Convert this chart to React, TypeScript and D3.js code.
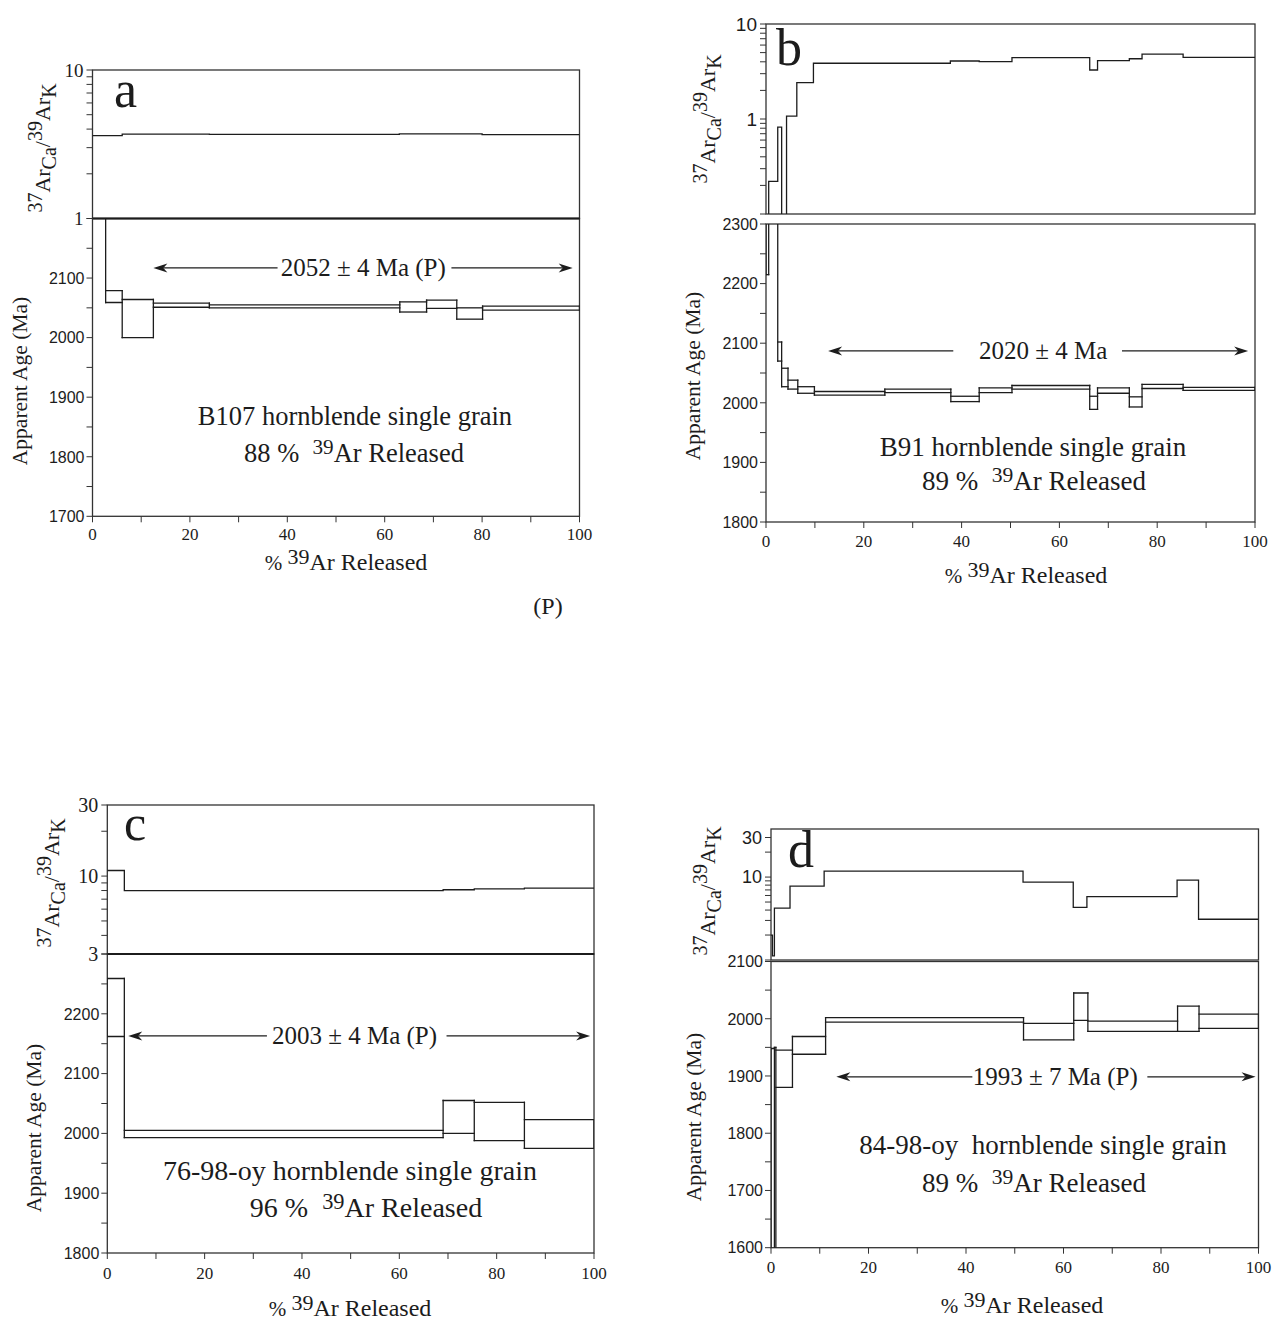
import React from "react";
import * as d3 from "d3";

// ---------------- Panel a : B107 ----------------
const aRatioEdges = [0, 6.1, 24, 63, 80, 100];
const aRatioValues = [3.62, 3.7, 3.69, 3.71, 3.67];
const aAgeEdges = [0, 2.7, 6.1, 12.5, 24, 63.1, 68.6, 74.8, 80.1, 100];
const aAgeLow = [2300, 2059, 2000, 2051, 2050, 2043, 2049, 2031, 2046];
const aAgeHigh = [2500, 2079, 2064, 2058, 2055, 2060, 2063, 2050, 2053];
const aPlateauText = "2052 ± 4 Ma (P)";
const aSampleText = "B107 hornblende single grain";
const aReleasedPct = "88 %";

// ---------------- Panel b : B91 ----------------
const bRatioEdges = [0, 0.55, 2.4, 3.2, 4.2, 6.3, 9.7, 37.7, 43.6, 50.3, 66.2, 67.8, 74.3, 76.9, 85.3, 100];
const bRatioValues = [0.05, 0.22, 0.82, 0.05, 1.07, 2.41, 3.86, 4.08, 4.02, 4.42, 3.28, 4.11, 4.31, 4.83, 4.46];
const bAgeEdges = [0, 0.55, 2.4, 3.2, 4.5, 6.5, 9.9, 24.3, 37.8, 43.6, 50.3, 66.2, 67.8, 74.3, 76.9, 85.3, 100];
const bAgeLow = [2215, 2330, 2070, 2027, 2023, 2016, 2013, 2017, 2002, 2017, 2023, 1989, 2016, 1993, 2024, 2021];
const bAgeHigh = [2400, 2500, 2102, 2058, 2038, 2027, 2019, 2023, 2011, 2025, 2029, 2011, 2025, 2010, 2031, 2026];
const bPlateauText = "2020 ± 4 Ma";
const bSampleText = "B91 hornblende single grain";
const bReleasedPct = "89 %";

// ---------------- Panel c : 76-98-oy ----------------
const cRatioEdges = [0, 3.5, 69, 75.4, 85.7, 100];
const cRatioValues = [10.9, 7.98, 8.1, 8.2, 8.3];
const cAgeEdges = [0, 3.5, 69, 75.4, 85.7, 100];
const cAgeLow = [2162, 1993, 2000, 1988, 1975];
const cAgeHigh = [2259, 2005, 2055, 2052, 2023];
const cPlateauText = "2003 ± 4 Ma (P)";
const cSampleText = "76-98-oy hornblende single grain";
const cReleasedPct = "96 %";

// ---------------- Panel d : 84-98-oy ----------------
const dRatioEdges = [0, 0.3, 0.7, 3.9, 10.9, 51.7, 62, 64.8, 83.3, 87.7, 100];
const dRatioValues = [2.0, 1.12, 4.23, 7.8, 11.8, 8.7, 4.3, 5.8, 9.2, 3.1];
const dAgeEdges = [0, 0.7, 1.0, 4.4, 11.2, 51.8, 62.1, 65.0, 83.4, 87.8, 100];
const dAgeLow = [1400, 1350, 1880, 1938, 1994, 1963, 1997, 1978, 1978, 1983];
const dAgeHigh = [1948, 1950, 1945, 1969, 2002, 1992, 2045, 1996, 2022, 2008];
const dPlateauText = "1993 ± 7 Ma (P)";
const dSampleText = "84-98-oy\u00a0 hornblende single grain";
const dReleasedPct = "89 %";

// axis tick labels
const xTickLabels = [0, 20, 40, 60, 80, 100];
const aRatioTickLabels = [10, 1];
const bRatioTickLabels = [10, 1];
const cRatioTickLabels = [30, 10, 3];
const dRatioTickLabels = [30, 10];
const aAgeTickLabels = [2100, 2000, 1900, 1800, 1700];
const bAgeTickLabels = [2300, 2200, 2100, 2000, 1900, 1800];
const cAgeTickLabels = [2200, 2100, 2000, 1900, 1800];
const dAgeTickLabels = [2100, 2000, 1900, 1800, 1700, 1600];

const SERIF = "'Liberation Serif', 'Times New Roman', serif";
const SANS = "'Liberation Sans', Arial, sans-serif";
const INK = "#1c1c1c";
const FRAME = "#333";

type PanelProps = {
  id: string;
  x0: number; x1: number;
  rTop: number; rBot: number; rDomain: [number, number];
  rLabels: number[]; rFont: string; rFontSize: number;
  aTop: number; aBot: number; aDomain: [number, number]; aLabels: number[];
  separate: boolean;
  ratioEdges: number[]; ratioValues: number[];
  ageEdges: number[]; ageLow: number[]; ageHigh: number[];
  letter: string; letterX: number; letterY: number; letterSize: number;
  ratioLabelX: number; ratioLabelY: number;
  ageLabelX: number; ageLabelY: number;
  plateauText: string; plateauAge: number; plateauTextPct: number;
  arrowL: [number, number]; arrowR: [number, number];
  sampleText: string; sampleX: number; sampleY: number; sampleSize: number;
  pct: string; relX: number; relY: number;
  xTitleX: number; xTitleY: number; xTickY: number;
};

function Arrow({ xFrom, xTo, y }: { xFrom: number; xTo: number; y: number }) {
  const dir = Math.sign(xTo - xFrom);
  const tip = xTo;
  const back = tip - dir * 14;
  const notch = tip - dir * 10;
  return (
    <g>
      <line x1={xFrom} x2={notch} y1={y} y2={y} stroke={INK} strokeWidth={1.2} />
      <path d={`M${tip},${y} L${back},${y - 4.5} L${notch},${y} L${back},${y + 4.5} Z`} fill={INK} />
    </g>
  );
}

function ReleasedText({ x, y, pct, size }: { x: number; y: number; pct: string; size: number }) {
  return (
    <text x={x} y={y} textAnchor="middle" fontFamily={SERIF} fontSize={size} fill={INK}>
      {pct + "\u00a0 "}
      <tspan dy={-size * 0.3} fontSize={size * 0.8}>39</tspan>
      <tspan dy={size * 0.3}>Ar Released</tspan>
    </text>
  );
}

function Panel(p: PanelProps) {
  const x = d3.scaleLinear().domain([0, 100]).range([p.x0, p.x1]);
  const yr = d3.scaleLog().domain(p.rDomain).range([p.rBot, p.rTop]);
  const ya = d3.scaleLinear().domain(p.aDomain).range([p.aBot, p.aTop]);

  // ratio step path
  const pts: [number, number][] = [];
  p.ratioValues.forEach((v, i) => {
    pts.push([p.ratioEdges[i], v]);
    pts.push([p.ratioEdges[i + 1], v]);
  });
  const ratioPath = d3
    .line<[number, number]>()
    .x((d) => x(d[0]))
    .y((d) => yr(d[1]))(pts) as string;

  // age spectrum segments
  const segs: { x1: number; y1: number; x2: number; y2: number }[] = [];
  const n = p.ageLow.length;
  for (let i = 0; i < n; i++) {
    const xa = x(p.ageEdges[i]);
    const xb = x(p.ageEdges[i + 1]);
    segs.push({ x1: xa, x2: xb, y1: ya(p.ageLow[i]), y2: ya(p.ageLow[i]) });
    segs.push({ x1: xa, x2: xb, y1: ya(p.ageHigh[i]), y2: ya(p.ageHigh[i]) });
  }
  for (let j = 0; j <= n; j++) {
    const xe = x(p.ageEdges[j]);
    const lows: number[] = [];
    const highs: number[] = [];
    if (j > 0) { lows.push(p.ageLow[j - 1]); highs.push(p.ageHigh[j - 1]); }
    if (j < n) { lows.push(p.ageLow[j]); highs.push(p.ageHigh[j]); }
    segs.push({ x1: xe, x2: xe, y1: ya(Math.min(...lows)), y2: ya(Math.max(...highs)) });
  }

  const rTicks = yr.ticks();
  const aTicks = d3.range(p.aDomain[0], p.aDomain[1] + 1, 50);
  const xTicks = d3.range(0, 101, 10);
  const tl = 6;

  return (
    <g>
      <defs>
        <clipPath id={`clipR-${p.id}`}>
          <rect x={p.x0} y={p.rTop} width={p.x1 - p.x0} height={p.rBot - p.rTop} />
        </clipPath>
        <clipPath id={`clipA-${p.id}`}>
          <rect x={p.x0} y={p.aTop} width={p.x1 - p.x0} height={p.aBot - p.aTop} />
        </clipPath>
      </defs>

      <rect x={p.x0} y={p.rTop} width={p.x1 - p.x0} height={p.rBot - p.rTop} fill="none" stroke={FRAME} strokeWidth={1.3} />
      <rect x={p.x0} y={p.aTop} width={p.x1 - p.x0} height={p.aBot - p.aTop} fill="none" stroke={FRAME} strokeWidth={1.3} />
      {!p.separate && (
        <line x1={p.x0} x2={p.x1} y1={p.rBot} y2={p.rBot} stroke={INK} strokeWidth={2} />
      )}

      {rTicks.map((t) => (
        <line key={`rt${t}`} x1={p.x0 - tl} x2={p.x0} y1={yr(t)} y2={yr(t)} stroke={FRAME} strokeWidth={1} />
      ))}
      {p.rLabels.map((t) => (
        <text key={`rl${t}`} x={p.x0 - tl - 3} y={yr(t)} dy="0.35em" textAnchor="end" fontFamily={p.rFont} fontSize={p.rFontSize} fill={INK}>
          {t}
        </text>
      ))}

      {aTicks.map((t) => (
        <line key={`at${t}`} x1={p.x0 - tl} x2={p.x0} y1={ya(t)} y2={ya(t)} stroke={FRAME} strokeWidth={1} />
      ))}
      {p.aLabels.map((t) => (
        <text key={`al${t}`} x={p.x0 - tl - 2} y={ya(t)} dy="0.36em" textAnchor="end" fontFamily={SANS} fontSize={16} fill={INK}>
          {t}
        </text>
      ))}

      {xTicks.map((t) => (
        <line key={`xt${t}`} x1={x(t)} x2={x(t)} y1={p.aBot} y2={p.aBot + tl} stroke={FRAME} strokeWidth={1} />
      ))}
      {xTickLabels.map((t) => (
        <text key={`xl${t}`} x={x(t)} y={p.xTickY} textAnchor="middle" fontFamily={SERIF} fontSize={17} fill={INK}>
          {t}
        </text>
      ))}

      <g clipPath={`url(#clipR-${p.id})`}>
        <path d={ratioPath} fill="none" stroke={INK} strokeWidth={1.3} />
      </g>
      <g clipPath={`url(#clipA-${p.id})`}>
        {segs.map((s, i) => (
          <line key={`s${i}`} x1={s.x1} x2={s.x2} y1={s.y1} y2={s.y2} stroke={INK} strokeWidth={1.3} strokeLinecap="square" />
        ))}
      </g>

      <text x={p.letterX} y={p.letterY} fontFamily={SERIF} fontSize={p.letterSize} fill={INK}>
        {p.letter}
      </text>

      <text transform={`translate(${p.ratioLabelX},${p.ratioLabelY}) rotate(-90)`} textAnchor="middle" fontFamily={SERIF} fontSize={22} fill={INK}>
        <tspan dy={-8} fontSize={20}>37</tspan>
        <tspan dy={8}>Ar</tspan>
        <tspan dy={6} fontSize={20}>Ca</tspan>
        <tspan dy={-6}>/</tspan>
        <tspan dy={-8} fontSize={20}>39</tspan>
        <tspan dy={8}>Ar</tspan>
        <tspan dy={6} fontSize={20}>K</tspan>
      </text>

      <text transform={`translate(${p.ageLabelX},${p.ageLabelY}) rotate(-90)`} textAnchor="middle" fontFamily={SERIF} fontSize={21.5} fill={INK}>
        Apparent Age (Ma)
      </text>

      <text x={p.xTitleX} y={p.xTitleY} textAnchor="middle" fontFamily={SERIF} fontSize={24} fill={INK}>
        <tspan fontSize={21}>{"% "}</tspan>
        <tspan dy={-6} fontSize={22}>39</tspan>
        <tspan dy={6}>Ar Released</tspan>
      </text>

      <Arrow xFrom={x(p.arrowL[0])} xTo={x(p.arrowL[1])} y={ya(p.plateauAge)} />
      <Arrow xFrom={x(p.arrowR[0])} xTo={x(p.arrowR[1])} y={ya(p.plateauAge)} />
      <text x={x(p.plateauTextPct)} y={ya(p.plateauAge) + 8} textAnchor="middle" fontFamily={SERIF} fontSize={25} fill={INK}>
        {p.plateauText}
      </text>

      <text x={p.sampleX} y={p.sampleY} textAnchor="middle" fontFamily={SERIF} fontSize={p.sampleSize} fill={INK}>
        {p.sampleText}
      </text>
      <ReleasedText x={p.relX} y={p.relY} pct={p.pct} size={p.sampleSize} />
    </g>
  );
}

export default function App() {
  return (
    <svg width={1272} height={1321} style={{ position: "absolute", left: 0, top: 0, background: "#fff" }}>
      <rect width={1272} height={1321} fill="#fff" />
      <Panel
        id="a" x0={92.5} x1={579.5}
        rTop={70} rBot={218.5} rDomain={[1, 10]} rLabels={aRatioTickLabels} rFont={SERIF} rFontSize={19}
        aTop={218.5} aBot={516.3} aDomain={[1700, 2200]} aLabels={aAgeTickLabels}
        separate={false}
        ratioEdges={aRatioEdges} ratioValues={aRatioValues}
        ageEdges={aAgeEdges} ageLow={aAgeLow} ageHigh={aAgeHigh}
        letter="a" letterX={114} letterY={107} letterSize={52}
        ratioLabelX={50} ratioLabelY={148} ageLabelX={27} ageLabelY={381}
        plateauText={aPlateauText} plateauAge={2117} plateauTextPct={55.6}
        arrowL={[38, 12.5]} arrowR={[73.7, 98.6]}
        sampleText={aSampleText} sampleX={355} sampleY={425} sampleSize={26.5}
        pct={aReleasedPct} relX={354} relY={462}
        xTitleX={346} xTitleY={570} xTickY={540}
      />
      <Panel
        id="b" x0={766} x1={1255}
        rTop={24} rBot={214} rDomain={[0.1, 10]} rLabels={bRatioTickLabels} rFont={SANS} rFontSize={19}
        aTop={224} aBot={522} aDomain={[1800, 2300]} aLabels={bAgeTickLabels}
        separate={true}
        ratioEdges={bRatioEdges} ratioValues={bRatioValues}
        ageEdges={bAgeEdges} ageLow={bAgeLow} ageHigh={bAgeHigh}
        letter="b" letterX={776} letterY={65} letterSize={52}
        ratioLabelX={715} ratioLabelY={119} ageLabelX={700} ageLabelY={376}
        plateauText={bPlateauText} plateauAge={2087} plateauTextPct={56.7}
        arrowL={[38.3, 12.7]} arrowR={[72.8, 98.6]}
        sampleText={bSampleText} sampleX={1033} sampleY={456} sampleSize={27}
        pct={bReleasedPct} relX={1034} relY={490}
        xTitleX={1026} xTitleY={583} xTickY={547}
      />
      <Panel
        id="c" x0={107.3} x1={594}
        rTop={805} rBot={954} rDomain={[3, 30]} rLabels={cRatioTickLabels} rFont={SERIF} rFontSize={20}
        aTop={954} aBot={1253} aDomain={[1800, 2300]} aLabels={cAgeTickLabels}
        separate={false}
        ratioEdges={cRatioEdges} ratioValues={cRatioValues}
        ageEdges={cAgeEdges} ageLow={cAgeLow} ageHigh={cAgeHigh}
        letter="c" letterX={124} letterY={840} letterSize={50}
        ratioLabelX={59} ratioLabelY={883} ageLabelX={41} ageLabelY={1128}
        plateauText={cPlateauText} plateauAge={2163} plateauTextPct={50.8}
        arrowL={[32.8, 4.3]} arrowR={[69.7, 99.2]}
        sampleText={cSampleText} sampleX={350} sampleY={1180} sampleSize={28}
        pct={cReleasedPct} relX={366} relY={1217}
        xTitleX={350} xTitleY={1316} xTickY={1279}
      />
      <Panel
        id="d" x0={771} x1={1258.5}
        rTop={829} rBot={960} rDomain={[1, 38]} rLabels={dRatioTickLabels} rFont={SANS} rFontSize={18}
        aTop={961.5} aBot={1247.7} aDomain={[1600, 2100]} aLabels={dAgeTickLabels}
        separate={true}
        ratioEdges={dRatioEdges} ratioValues={dRatioValues}
        ageEdges={dAgeEdges} ageLow={dAgeLow} ageHigh={dAgeHigh}
        letter="d" letterX={788} letterY={867} letterSize={52}
        ratioLabelX={715} ratioLabelY={891} ageLabelX={701} ageLabelY={1117}
        plateauText={dPlateauText} plateauAge={1898.5} plateauTextPct={58.3}
        arrowL={[41.3, 13.4]} arrowR={[77.2, 99.4]}
        sampleText={dSampleText} sampleX={1043} sampleY={1154} sampleSize={27}
        pct={dReleasedPct} relX={1034} relY={1192}
        xTitleX={1022} xTitleY={1313} xTickY={1273}
      />
      <text x={548} y={614} textAnchor="middle" fontFamily={SERIF} fontSize={24} fill={INK}>
        (P)
      </text>
    </svg>
  );
}
